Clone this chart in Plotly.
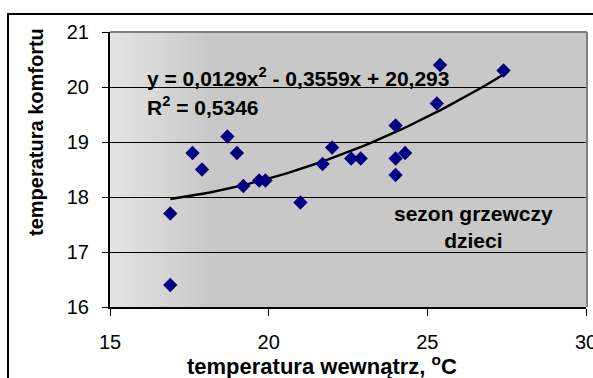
import numpy as np
import plotly.graph_objects as go

# --- data ---
temp_inside = [16.9, 16.9, 17.6, 17.9, 18.7, 19.0, 19.2, 19.7, 19.9, 21.0, 21.7,
               22.0, 22.6, 22.9, 24.0, 24.0, 24.0, 24.3, 25.3, 25.4, 27.4]
temp_comfort = [17.7, 16.4, 18.8, 18.5, 19.1, 18.8, 18.2, 18.3, 18.3, 17.9, 18.6,
                18.9, 18.7, 18.7, 19.3, 18.7, 18.4, 18.8, 19.7, 20.4, 20.3]
trend_coef = [0.0129, -0.3559, 20.293]   # y = a x^2 + b x + c
x_ticks = [15, 20, 25, 30]
y_ticks = [16, 17, 18, 19, 20, 21]

FONT = "Arial, Liberation Sans, sans-serif"

# trendline over data range
tx = np.linspace(min(temp_inside), max(temp_inside), 60)
ty = np.polyval(trend_coef, tx)

fig = go.Figure()
fig.add_trace(go.Scatter(x=tx, y=ty, mode="lines",
                         line=dict(color="black", width=2.4), hoverinfo="skip"))
fig.add_trace(go.Scatter(x=temp_inside, y=temp_comfort, mode="markers",
                         marker=dict(symbol="diamond", size=11, color="#000080",
                                     line=dict(width=0))))

W, H = 593, 378
L, R, T, B = 110, 586, 32, 307
def px(x):
    return (x - L) / (R - L)
def py(y):
    return (B - y) / (B - T)

shapes = []
# left gradient of plot background
n = 24
c0, c1 = 228, 200
for i in range(n):
    x0 = 15 + 3.2 * i / n
    x1 = 15 + 3.2 * (i + 1) / n + 0.02
    c = int(round(c0 + (c1 - c0) * (i + 0.5) / n))
    shapes.append(dict(type="rect", xref="x", yref="paper", x0=x0, x1=x1, y0=0, y1=1,
                       fillcolor=f"rgb({c},{c},{c})", line=dict(width=0), layer="below"))
# gray top & right border of plot area
shapes.append(dict(type="line", xref="paper", yref="paper", x0=0, x1=px(587), y0=1, y1=1,
                   line=dict(color="#7f7f7f", width=2), layer="above"))
shapes.append(dict(type="line", xref="paper", yref="paper", x0=px(587), x1=px(587), y0=0, y1=1,
                   line=dict(color="#7f7f7f", width=2), layer="above"))
# outer chart frame
shapes.append(dict(type="rect", xref="paper", yref="paper",
                   x0=px(8), x1=px(620), y0=py(400), y1=py(14),
                   line=dict(color="black", width=2), fillcolor="rgba(0,0,0,0)", layer="above"))

annotations = [
    dict(text="<b>y = 0,0129x<sup>2</sup> - 0,3559x + 20,293</b>", xref="paper", yref="paper",
         x=px(145), y=py(77), xanchor="left", yanchor="middle", showarrow=False,
         font=dict(family=FONT, size=21, color="black")),
    dict(text="<b>R<sup>2</sup> = 0,5346</b>", xref="paper", yref="paper",
         x=px(145), y=py(106), xanchor="left", yanchor="middle", showarrow=False,
         font=dict(family=FONT, size=21, color="black")),
    dict(text="<b>sezon grzewczy<br>dzieci</b>", xref="paper", yref="paper",
         x=px(473), y=py(227), xanchor="center", yanchor="middle", showarrow=False,
         font=dict(family=FONT, size=21, color="black")),
    dict(text="<b>temperatura wewnątrz, <sup>o</sup>C</b>", xref="paper", yref="paper",
         x=px(322), y=py(365), xanchor="center", yanchor="middle", showarrow=False,
         font=dict(family=FONT, size=22, color="black")),
    dict(text="<b>temperatura komfortu</b>", xref="paper", yref="paper", textangle=-90,
         x=px(36), y=py(132), xanchor="center", yanchor="middle", showarrow=False,
         font=dict(family=FONT, size=20, color="black")),
]

fig.update_layout(
    width=W, height=H,
    margin=dict(l=L, r=W - R, t=T, b=H - B, autoexpand=False),
    paper_bgcolor="white", plot_bgcolor="#c8c8c8",
    showlegend=False,
    shapes=shapes, annotations=annotations,
    font=dict(family=FONT, size=18, color="black"),
)
fig.update_xaxes(range=[15, 30], tickvals=x_ticks, showgrid=False, zeroline=False,
                 showline=True, linecolor="black", linewidth=2,
                 ticks="outside", ticklen=7, tickcolor="black", tickwidth=1,
                 ticklabelstandoff=9, ticklabeloverflow="allow", automargin=False,
                 tickfont=dict(family=FONT, size=20))
fig.update_yaxes(range=[16, 21], tickvals=y_ticks, showgrid=True, gridcolor="black",
                 gridwidth=1, zeroline=False,
                 showline=True, linecolor="black", linewidth=2,
                 ticks="outside", ticklen=6, tickcolor="black", tickwidth=1,
                 ticklabelstandoff=9, automargin=False,
                 tickfont=dict(family=FONT, size=20))

fig.write_html("out.html")
